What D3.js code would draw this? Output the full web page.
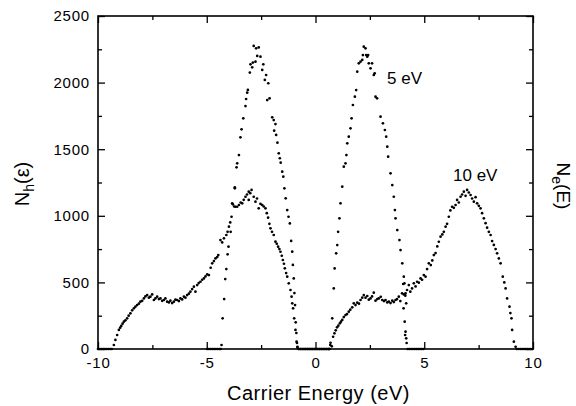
<!DOCTYPE html>
<html>
<head>
<meta charset="utf-8">
<script src="https://cdn.jsdelivr.net/npm/d3@7"></script>
<style>
  body { margin: 0; background: #fff; }
  text { font-family: "Liberation Sans", Arial, sans-serif; fill: #000; }
</style>
</head>
<body>
<main></main>
<script>
// carrier energy (eV), count
const holes5 = [
  [-4.98,0],[-4.9,0],[-4.82,0],[-4.74,0],[-4.66,0],[-4.58,0],[-4.5,0],[-4.42,0],[-4.36,0],
  [-4.32,30],[-4.27,230],[-4.2,375],[-4.15,525],[-4.1,600],[-4.04,711],[-4.0,768],[-3.9,880],
  [-3.83,1094],[-3.71,1214],[-3.63,1364],[-3.6,1394],[-3.52,1456],[-3.45,1589],[-3.4,1649],
  [-3.32,1732],[-3.22,1824],[-3.19,1877],[-3.14,1924],[-3.11,1945],[-3.02,2075],[-2.99,2137],
  [-2.91,2115],[-2.88,2150],[-2.84,2275],[-2.76,2157],[-2.73,2257],[-2.68,2200],[-2.61,2264],
  [-2.53,2195],[-2.45,2095],[-2.4,2137],[-2.33,2020],[-2.27,2057],[-2.22,1869],[-2.17,1995],
  [-2.11,1882],[-1.99,1739],[-1.92,1719],[-1.9,1639],[-1.84,1689],[-1.81,1607],[-1.75,1549],
  [-1.69,1469],[-1.64,1432],[-1.6,1399],[-1.53,1331],[-1.48,1294],[-1.43,1206],[-1.37,1131],
  [-1.3,1043],[-1.24,993],[-1.18,943],[-1.12,811],[-1.07,731],[-1.04,631],[-1.0,530],
  [-0.97,420],[-0.94,330],[-0.91,200],[-0.88,120],[-0.85,45],[-0.83,10],
  [-0.76,0],[-0.68,0],[-0.6,0],[-0.52,0],[-0.44,0],[-0.36,0],[-0.28,0],[-0.2,0],[-0.12,0],[-0.04,0]
];

const elec5 = [
  [0.04,0],[0.12,0],[0.2,0],[0.28,0],[0.36,0],[0.44,0],[0.52,0],[0.6,0],[0.64,0],
  [0.68,30],[0.77,230],[0.84,455],[0.88,605],[0.95,718],[1.0,780],[1.04,880],[1.1,981],
  [1.15,1094],[1.23,1219],[1.3,1369],[1.38,1394],[1.42,1456],[1.46,1544],[1.53,1594],
  [1.61,1657],[1.66,1732],[1.72,1832],[1.81,1894],[1.87,1944],[1.92,2082],[1.99,2145],
  [2.07,2157],[2.15,2170],[2.18,2207],[2.22,2270],[2.3,2257],[2.33,2207],[2.38,2195],
  [2.42,2207],[2.45,2145],[2.53,2107],[2.6,2145],[2.68,2057],[2.72,2070],[2.76,1894],
  [2.83,1882],[2.99,1744],[3.1,1694],[3.19,1644],[3.25,1594],[3.3,1519],[3.34,1444],
  [3.45,1319],[3.53,1231],[3.6,1143],[3.65,1043],[3.68,981],[3.76,893],[3.86,818],
  [3.91,743],[3.99,643],[4.03,488],[4.06,543],[4.09,493],[4.14,418],[4.17,343],
  [4.05,305],[4.1,205],[4.12,105],[4.14,130],[4.17,80],[4.19,45],
  [4.24,0],[4.32,0],[4.4,0],[4.48,0],[4.56,0],[4.64,0],[4.72,0],[4.8,0],[4.88,0],[4.96,0]
];

const holes10 = [
  [-10,0],[-9.92,0],[-9.84,0],[-9.76,0],[-9.68,0],[-9.6,0],[-9.52,0],[-9.44,0],[-9.36,0],
  [-9.27,30],[-9.2,68],[-9.12,105],[-9.04,143],[-8.98,160],[-8.93,173],[-8.87,190],[-8.81,205],
  [-8.74,215],[-8.66,230],[-8.59,250],[-8.51,268],[-8.43,290],[-8.35,305],[-8.28,318],[-8.2,330],
  [-8.12,340],[-8.05,355],[-7.97,362],[-7.89,380],[-7.82,395],[-7.74,405],[-7.66,385],[-7.59,393],
  [-7.51,410],[-7.43,368],[-7.36,380],[-7.28,393],[-7.2,375],[-7.13,380],[-7.05,362],[-6.97,368],
  [-6.9,380],[-6.82,355],[-6.74,350],[-6.67,363],[-6.59,345],[-6.51,355],[-6.44,370],[-6.36,368],
  [-6.28,360],[-6.21,380],[-6.13,372],[-6.05,393],[-5.98,385],[-5.9,405],[-5.82,415],[-5.75,430],
  [-5.67,450],[-5.59,468],[-5.52,430],[-5.44,480],[-5.37,495],[-5.29,505],[-5.21,520],[-5.13,530],
  [-5.06,545],[-4.98,560],[-4.9,555],[-4.82,610],[-4.75,643],[-4.67,660],[-4.6,680],[-4.52,690],
  [-4.47,705],[-4.37,818],[-4.29,800],[-4.21,831],[-4.1,856],[-4.04,880],[-3.98,918],[-3.92,950],
  [-3.86,993],[-3.8,1086],[-3.74,1070],[-3.71,1206],[-3.68,1068],[-3.6,1068],[-3.52,1081],
  [-3.44,1100],[-3.37,1094],[-3.3,1120],[-3.22,1143],[-3.15,1160],[-3.07,1181],[-3.07,1119],
  [-3.0,1170],[-2.94,1194],[-2.84,1143],[-2.76,1106],[-2.69,1130],[-2.61,1056],[-2.53,1090],
  [-2.45,1081],[-2.38,1070],[-2.3,1056],[-2.24,1020],[-2.18,986],[-2.12,940],[-2.07,906],
  [-2.0,880],[-1.92,856],[-1.84,806],[-1.78,790],[-1.72,768],[-1.66,750],[-1.61,730],[-1.55,700],
  [-1.5,668],[-1.45,640],[-1.41,606],[-1.35,570],[-1.3,543],[-1.23,493],[-1.15,443],[-1.1,393],
  [-1.07,343],[-1.03,305],[-0.98,230],[-0.92,143],[-0.87,55],[-0.83,17],
  [-0.78,0],[-0.7,0],[-0.62,0],[-0.54,0],[-0.46,0],[-0.38,0],[-0.3,0],[-0.22,0],[-0.14,0],[-0.06,0]
];

const elec10 = [
  [0.02,0],[0.1,0],[0.18,0],[0.26,0],[0.34,0],[0.42,0],[0.5,0],[0.58,0],[0.64,0],
  [0.69,47],[0.75,20],[0.81,92],[0.87,118],[0.93,140],[0.99,163],[1.05,175],[1.12,193],[1.17,205],
  [1.23,218],[1.3,240],[1.38,255],[1.45,262],[1.53,280],[1.6,295],[1.69,313],[1.76,343],[1.84,330],
  [1.92,348],[2.0,340],[2.07,368],[2.15,385],[2.22,405],[2.3,385],[2.38,398],[2.45,370],[2.53,380],
  [2.6,395],[2.68,423],[2.76,363],[2.84,375],[2.91,380],[3.0,392],[3.07,368],[3.15,360],[3.22,368],
  [3.3,350],[3.37,355],[3.45,345],[3.53,363],[3.6,352],[3.68,368],[3.75,375],[3.83,393],[3.9,360],
  [3.98,418],[4.06,410],[4.13,400],[4.21,443],[4.29,480],[4.36,430],[4.44,455],[4.52,493],[4.6,470],
  [4.67,505],[4.75,498],[4.83,530],[4.9,520],[4.98,555],[5.06,543],[5.13,600],[5.21,643],[5.3,630],
  [5.37,665],[5.44,705],[5.52,720],[5.6,770],[5.67,805],[5.75,843],[5.83,860],[5.9,880],[5.98,918],
  [6.05,940],[6.13,993],[6.2,1040],[6.28,1068],[6.36,1060],[6.44,1081],[6.51,1119],[6.59,1100],
  [6.67,1143],[6.74,1160],[6.82,1181],[6.9,1150],[6.97,1194],[7.05,1175],[7.13,1156],[7.2,1130],
  [7.28,1106],[7.36,1140],[7.43,1094],[7.51,1075],[7.59,1056],[7.66,1020],[7.74,981],[7.82,945],
  [7.89,911],[7.97,880],[8.05,856],[8.12,810],[8.2,781],[8.28,750],[8.35,718],[8.43,680],[8.51,643],
  [8.61,543],[8.68,500],[8.74,455],[8.81,380],[8.92,318],[8.96,270],[9.01,230],[9.04,143],[9.12,55],
  [9.2,17],
  [9.26,0],[9.34,0],[9.42,0],[9.5,0],[9.58,0],[9.66,0],[9.74,0],[9.82,0],[9.9,0],[9.98,0]
];

const xMajor = [-10, -5, 0, 5, 10];
const xMinor = [-7.5, -2.5, 2.5, 7.5];
const yMajor = [0, 500, 1000, 1500, 2000, 2500];
const yMinor = [250, 750, 1250, 1750, 2250];

const w = 576,
  h = 406,
  padL = 98, padR = 533, padT = 16, padB = 349;

const xScale = d3.scaleLinear().domain([-10, 10]).range([padL, padR]);
const yScale = d3.scaleLinear().domain([0, 2500]).range([padB, padT]);

const svg = d3.select("main")
  .append("svg")
  .attr("width", w)
  .attr("height", h);

// ticks point inward on all four sides; plain hyphen for negatives
function ticks(axisFn, scale, values, size, labels) {
  return axisFn(scale).tickValues(values).tickSize(-size).tickPadding(8)
    .tickFormat(labels ? (d => String(d)) : "");
}

const axes = [
  [d3.axisBottom, xScale, "translate(0," + padB + ")", true],
  [d3.axisTop, xScale, "translate(0," + padT + ")", false],
  [d3.axisLeft, yScale, "translate(" + padL + ",0)", true],
  [d3.axisRight, yScale, "translate(" + padR + ",0)", false]
];
axes.forEach(([fn, sc, tr, lab]) => {
  const isX = sc === xScale;
  const g1 = svg.append("g").attr("transform", tr)
    .call(ticks(fn, sc, isX ? xMajor : yMajor, 7, lab));
  const g2 = svg.append("g").attr("transform", tr)
    .call(ticks(fn, sc, isX ? xMinor : yMinor, 4, false));
  [g1, g2].forEach(g => {
    g.select(".domain").remove();
    g.selectAll("line").attr("stroke", "#000").attr("stroke-width", 1.3);
    g.selectAll("text")
      .style("font-family", "'Liberation Sans', Arial, sans-serif")
      .style("font-size", "15px")
      .style("letter-spacing", "0.8px")
      .attr("fill", "#000");
  });
});

svg.append("rect")
  .attr("x", padL).attr("y", padT)
  .attr("width", padR - padL).attr("height", padB - padT)
  .attr("fill", "none").attr("stroke", "#000").attr("stroke-width", 1.6);

[holes5, elec5, holes10, elec10].forEach(series => {
  svg.append("g").selectAll("circle")
    .data(series)
    .enter()
    .append("circle")
    .attr("cx", d => xScale(d[0]))
    .attr("cy", d => yScale(d[1]))
    .attr("r", 1.35)
    .attr("fill", "#000");
});

svg.append("text")
  .attr("x", (padL + padR) / 2 + 3)
  .attr("y", 400)
  .attr("text-anchor", "middle")
  .style("font-size", "20px")
  .style("letter-spacing", "0.5px")
  .text("Carrier Energy (eV)");

const yl = svg.append("text")
  .attr("transform", "translate(29,184) rotate(-90)")
  .attr("text-anchor", "middle")
  .style("font-size", "20px");
yl.append("tspan").text("N");
yl.append("tspan").attr("dy", 5).style("font-size", "14px").text("h");
yl.append("tspan").attr("dy", -5).text("(ε)");

const yr = svg.append("text")
  .attr("transform", "translate(557,186) rotate(90)")
  .attr("text-anchor", "middle")
  .style("font-size", "19px");
yr.append("tspan").text("N");
yr.append("tspan").attr("dy", 5).style("font-size", "14px").text("e");
yr.append("tspan").attr("dy", -5).text("(E)");

svg.append("text")
  .attr("x", 387).attr("y", 84)
  .style("font-size", "17px")
  .text("5 eV");

svg.append("text")
  .attr("x", 453).attr("y", 181)
  .style("font-size", "17px")
  .text("10 eV");
</script>
</body>
</html>
